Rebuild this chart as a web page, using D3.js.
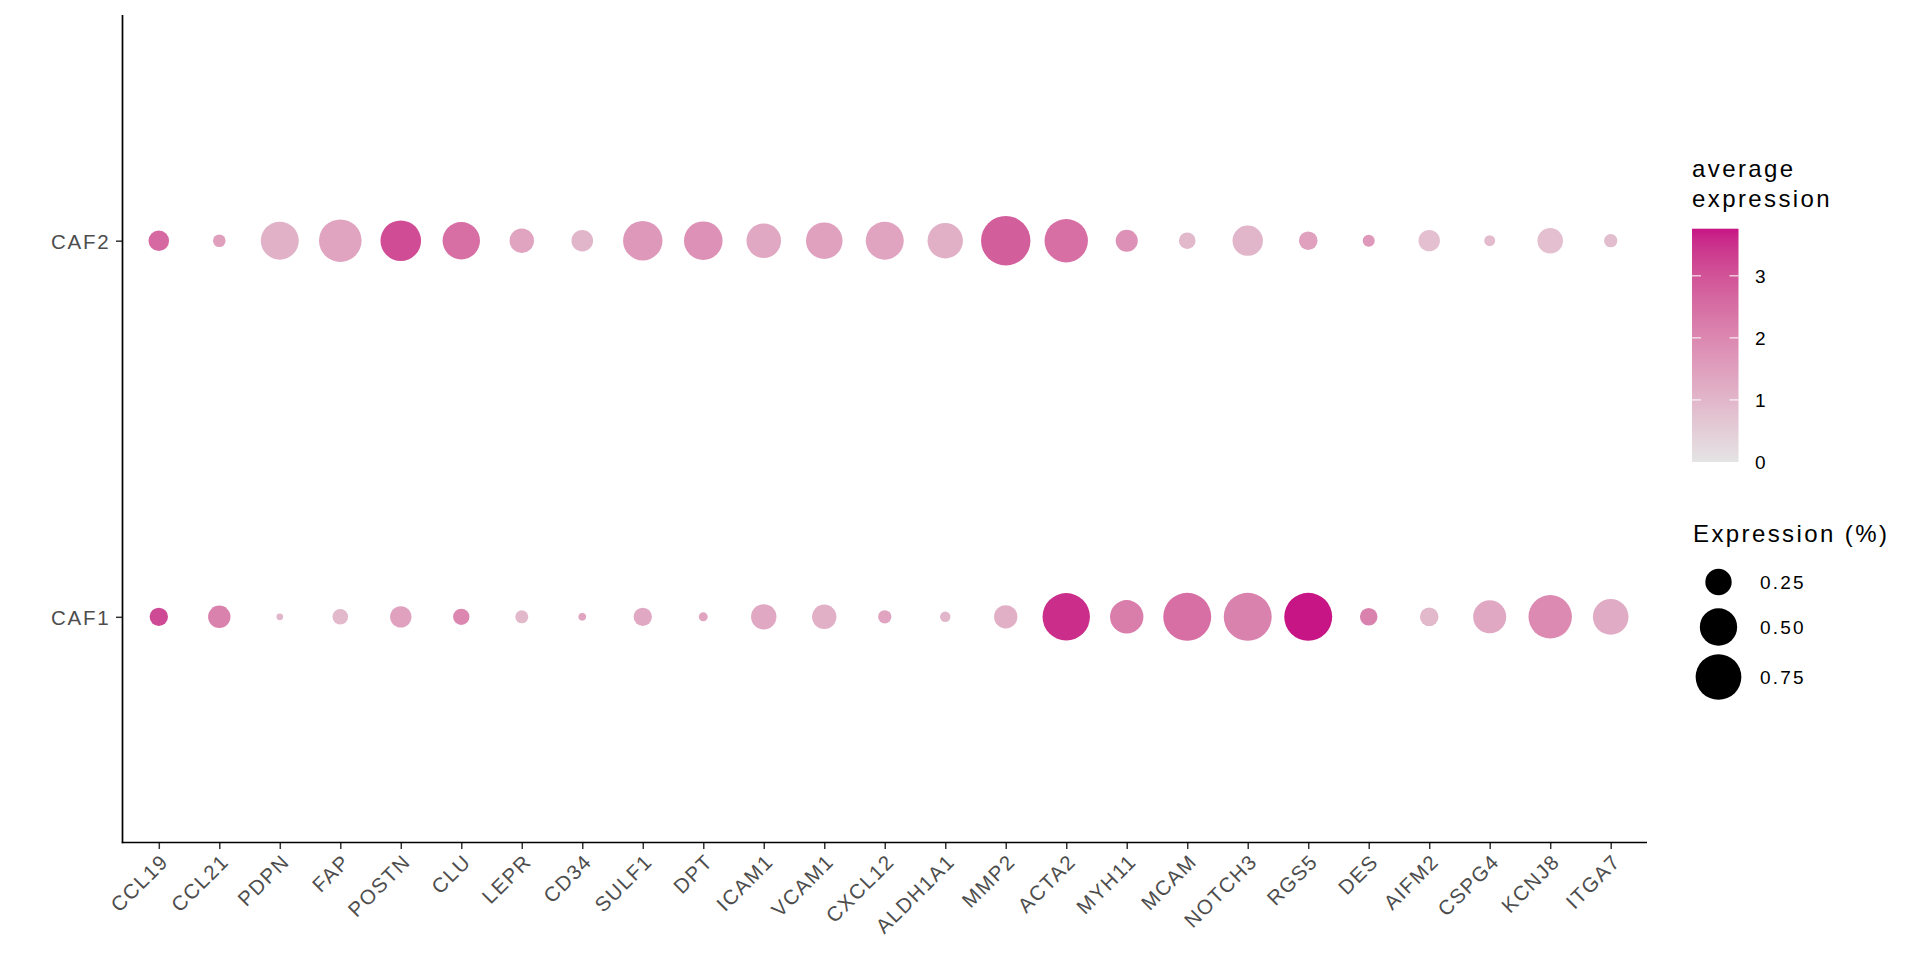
<!DOCTYPE html>
<html>
<head>
<meta charset="utf-8">
<script src="https://cdn.jsdelivr.net/npm/d3@7"></script>
<style>
  html, body { margin: 0; padding: 0; background: #ffffff; }
  svg { display: block; }
  text { font-family: "Liberation Sans", Arial, Helvetica, sans-serif; }
</style>
</head>
<body>
<svg id="chart" width="1920" height="960"></svg>
<script>
// ---- data ----
const genes = ["CCL19","CCL21","PDPN","FAP","POSTN","CLU","LEPR","CD34","SULF1","DPT","ICAM1","VCAM1","CXCL12","ALDH1A1","MMP2","ACTA2","MYH11","MCAM","NOTCH3","RGS5","DES","AIFM2","CSPG4","KCNJ8","ITGA7"];
const clusters = ["CAF2", "CAF1"];

// percent expressed (fraction)
const pctCAF2 = [0.152,0.057,0.518,0.651,0.591,0.502,0.214,0.167,0.557,0.534,0.429,0.480,0.518,0.450,0.875,0.676,0.174,0.099,0.331,0.124,0.052,0.164,0.043,0.235,0.064];
const pctCAF1 = [0.121,0.180,0.016,0.087,0.164,0.096,0.061,0.021,0.121,0.029,0.231,0.214,0.064,0.039,0.196,0.806,0.400,0.826,0.826,0.826,0.111,0.124,0.391,0.676,0.455];

// average expression
const avgCAF2 = [2.6,1.5,1.1,1.4,3.1,2.5,1.4,1.0,1.65,1.8,1.3,1.45,1.4,1.15,2.8,2.5,1.8,0.95,1.0,1.45,1.65,0.8,0.9,0.8,0.85];
const avgCAF1 = [3.15,2.1,1.0,0.95,1.45,2.0,0.95,1.4,1.3,1.4,1.3,1.15,1.4,1.0,1.15,3.55,2.2,2.5,2.1,3.76,2.1,0.95,1.3,1.95,1.25];

const colorTicks = [0, 1, 2, 3];
const sizeBreaks = [0.25, 0.50, 0.75];
const sizeLabels = ["0.25", "0.50", "0.75"];

// ---- build records ----
const records = [];
genes.forEach((g, i) => {
  records.push({ gene: g, cluster: "CAF2", pct: pctCAF2[i], avg: avgCAF2[i] });
  records.push({ gene: g, cluster: "CAF1", pct: pctCAF1[i], avg: avgCAF1[i] });
});

const svg = d3.select("#chart");
const panel = { left: 122.5, right: 1647, top: 15, bottom: 842.5 };

const x = d3.scalePoint().domain(genes).range([panel.left, panel.right]).padding(0.6);
const y = d3.scalePoint().domain(clusters).range([panel.top, panel.bottom]).padding(0.6);

const maxAvg = d3.max(records, d => d.avg);
const color = d3.scaleLinear().domain([0, maxAvg]).range(["#E4E4E4", "#C71585"]).interpolate(d3.interpolateLab);
const size = d3.scaleSqrt().domain([0, 1]).range([0, 26.4]);

const txtColor = "#4D4D4D";

// ---- points ----
svg.append("g").selectAll("circle").data(records).join("circle")
  .attr("cx", d => x(d.gene))
  .attr("cy", d => y(d.cluster))
  .attr("r", d => size(d.pct))
  .attr("fill", d => color(d.avg));

// ---- axes ----
const xAxis = svg.append("g").attr("transform", `translate(0,${panel.bottom})`)
  .call(d3.axisBottom(x).tickSize(6.5).tickSizeOuter(0));
xAxis.select(".domain").remove();
xAxis.selectAll(".tick line").attr("stroke", "#333333").attr("stroke-width", 1.5);
xAxis.selectAll(".tick text")
  .attr("fill", txtColor)
  .style("font-size", "20.5px")
  .style("letter-spacing", "1.5px")
  .attr("text-anchor", "end")
  .attr("x", 0).attr("y", 0).attr("dy", "0.72em")
  .attr("transform", "translate(0,10) rotate(-45)");

const yAxis = svg.append("g").attr("transform", `translate(${panel.left},0)`)
  .call(d3.axisLeft(y).tickSize(6.5).tickSizeOuter(0));
yAxis.select(".domain").remove();
yAxis.selectAll(".tick line").attr("stroke", "#333333").attr("stroke-width", 1.5);
yAxis.selectAll(".tick text")
  .attr("fill", txtColor)
  .style("font-size", "20.5px")
  .style("letter-spacing", "1.8px")
  .attr("x", -12)
  .attr("dy", "0.36em");

// axis lines
svg.append("line").attr("x1", panel.left).attr("x2", panel.left)
  .attr("y1", panel.top).attr("y2", panel.bottom + 0.8)
  .attr("stroke", "#000").attr("stroke-width", 1.7);
svg.append("line").attr("x1", panel.left - 0.8).attr("x2", panel.right)
  .attr("y1", panel.bottom).attr("y2", panel.bottom)
  .attr("stroke", "#000").attr("stroke-width", 1.7);

// ---- colour legend ----
const cb = { x: 1692, w: 46.5, top: 228.7, bottom: 462 };
const cbScale = d3.scaleLinear().domain([0, maxAvg]).range([cb.bottom, cb.top]);
const defs = svg.append("defs");
const grad = defs.append("linearGradient").attr("id", "cbgrad")
  .attr("x1", 0).attr("y1", 1).attr("x2", 0).attr("y2", 0);
d3.range(0, 1.0001, 0.05).forEach(t => {
  grad.append("stop").attr("offset", t).attr("stop-color", color(t * maxAvg));
});
const lg = svg.append("g");
lg.append("text").attr("x", cb.x).attr("y", 177)
  .style("font-size", "24px").style("letter-spacing", "2.4px").attr("fill", "#000")
  .text("average");
lg.append("text").attr("x", cb.x).attr("y", 207)
  .style("font-size", "24px").style("letter-spacing", "2.4px").attr("fill", "#000")
  .text("expression");
lg.append("rect").attr("x", cb.x).attr("y", cb.top).attr("width", cb.w)
  .attr("height", cb.bottom - cb.top).attr("fill", "url(#cbgrad)");
colorTicks.forEach(v => {
  const yy = cbScale(v);
  if (v > 0) {
    lg.append("line").attr("x1", cb.x).attr("x2", cb.x + 9).attr("y1", yy).attr("y2", yy)
      .attr("stroke", "#fff").attr("stroke-width", 1);
    lg.append("line").attr("x1", cb.x + cb.w - 9).attr("x2", cb.x + cb.w).attr("y1", yy).attr("y2", yy)
      .attr("stroke", "#fff").attr("stroke-width", 1);
  }
  lg.append("text").attr("x", 1755).attr("y", yy).attr("dy", "0.36em")
    .style("font-size", "19px").style("letter-spacing", "2.2px").attr("fill", "#000")
    .text(v);
});

// ---- size legend ----
const sl = svg.append("g");
sl.append("text").attr("x", 1693).attr("y", 542)
  .style("font-size", "24px").style("letter-spacing", "2.4px").attr("fill", "#000")
  .text("Expression (%)");
const sizeY = [582, 627, 677];
sizeBreaks.forEach((b, i) => {
  sl.append("circle").attr("cx", 1718.5).attr("cy", sizeY[i]).attr("r", size(b)).attr("fill", "#000");
  sl.append("text").attr("x", 1760).attr("y", sizeY[i]).attr("dy", "0.36em")
    .style("font-size", "19px").style("letter-spacing", "2.2px").attr("fill", "#000")
    .text(sizeLabels[i]);
});
</script>
</body>
</html>
